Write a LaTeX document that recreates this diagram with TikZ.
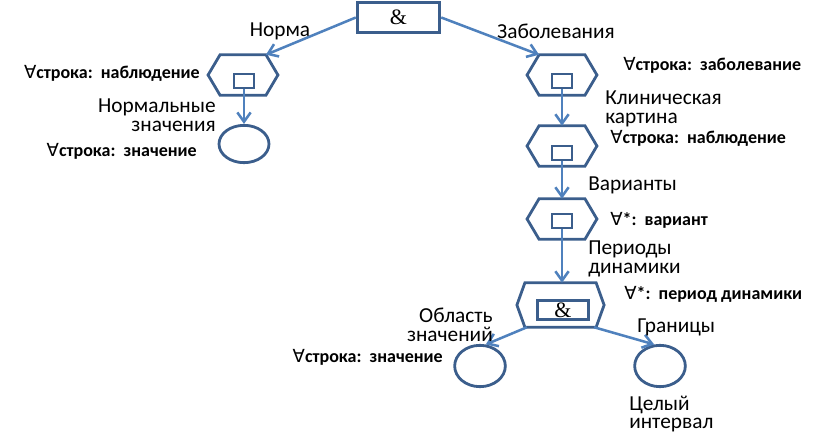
\documentclass[tikz,border=0pt]{standalone}
\usepackage{fontspec}
\setmainfont{Carlito}
\newfontfamily\symfont{DejaVu Sans}
\newfontfamily\ampfont{Liberation Serif}
\usetikzlibrary{arrows.meta,calc,shapes.geometric}

\definecolor{frameblue}{HTML}{3B5E8C}
\definecolor{linkblue}{HTML}{4F81BD}

\newcommand{\fa}{{\mdseries\symfont ∀}}
% hexagon outline round a named box node, #1 = inset
\newcommand{\hexframe}[2][12]{%
  \draw[frame] (#2.west) -- ($(#2.north west)+(#1,0)$) -- ($(#2.north east)+(-#1,0)$)
    -- (#2.east) -- ($(#2.south east)+(-#1,0)$) -- ($(#2.south west)+(#1,0)$) -- cycle;}

\tikzset{
  frame/.style={draw=frameblue,line width=2.1pt},
  link/.style={draw=linkblue,line width=1.9pt,-{Straight Barb[length=7pt,width=10pt]}},
  hexbox/.style={draw=none,minimum width=52pt,minimum height=30pt,inner sep=0pt},
  sqbox/.style={frame,minimum width=15pt,minimum height=10.5pt,inner sep=0pt},
  andbox/.style={frame,minimum width=62pt,minimum height=23pt,inner sep=0pt,
    font=\ampfont\fontsize{16.5}{16.5}\selectfont},
  leaf/.style={frame,ellipse,minimum width=38pt,minimum height=31pt,inner sep=0pt},
  lbl/.style={inner sep=0pt,font=\fontsize{16}{14}\selectfont},
  qlbl/.style={inner sep=0pt,font=\bfseries\fontsize{13.5}{14}\selectfont}
}

\begin{document}
\begin{tikzpicture}[x=0.75pt,y=-0.75pt]
  \useasboundingbox (0,0) rectangle (827,435);

  % --- Root ---
  \node[andbox] (and) at (398.5,17.5) {\&};

  % --- Left branch ---
  \node[hexbox] (hexL) at (243,75) {};
  \hexframe{hexL}
  \node[sqbox] (sqL) at (244,81) {};
  \node[leaf,minimum width=37.5pt,minimum height=28pt] (leafL) at (244,144) {};

  % --- Right branch ---
  \node[hexbox] (hexA) at (562,75) {};
  \hexframe{hexA}
  \node[sqbox] (sqA) at (562,81) {};
  \node[hexbox] (hexB) at (562,146) {};
  \hexframe{hexB}
  \node[sqbox] (sqB) at (562,153) {};
  \node[hexbox] (hexC) at (562,219) {};
  \hexframe{hexC}
  \node[sqbox] (sqC) at (562,221) {};
  \node[hexbox,minimum width=65pt,minimum height=33pt] (hexD) at (560.5,305) {};
  \hexframe[8]{hexD}
  \node[andbox,minimum width=38pt,minimum height=14pt] (andD) at (563,310) {\&};
  \node[leaf] (leafD1) at (480,366) {};
  \node[leaf] (leafD2) at (660,366) {};

  % --- Links ---
  \draw[link] (and.west) -- ($(hexL.north east)+(-12,0)$);
  \draw[link] (and.east) -- ($(hexA.north west)+(12,0)$);
  \draw[link] (sqL.south) -- (leafL.north);
  \draw[link] (sqA.south) -- (hexB.north);
  \draw[link] (sqB.south) -- (hexC.north);
  \draw[link] (sqC.south) -- (sqC.south |- hexD.north);
  \draw[link] ($(hexD.south west)+(10,0)$) -- (leafD1.75);
  \draw[link] ($(hexD.south east)+(-10,0)$) -- (leafD2.105);

  % --- Labels ---
  \node[lbl] (norm) at (280,31) {Норма};
  \node[lbl] (dis) at (556,31) {Заболевания};
  \node[qlbl,anchor=east] (qL1) at (200,73) {\fa строка:\ \ наблюдение};
  \node[lbl,anchor=east,align=right] (nL) at (216,115) {Нормальные\\значения};
  \node[qlbl,anchor=east] (qL2) at (197,151) {\fa строка:\ \ значение};
  \node[qlbl,anchor=west] (qA) at (623,65) {\fa строка:\ \ заболевание};
  \node[lbl,anchor=west,align=left] (clin) at (605,109) {Клиническая\\картина};
  \node[qlbl,anchor=west] (qB) at (610,138) {\fa строка:\ \ наблюдение};
  \node[lbl,anchor=west] (var) at (588,185) {Варианты};
  \node[qlbl,anchor=west] (qC) at (610,220) {\fa*:\ \ вариант};
  \node[lbl,anchor=west,align=left] (per) at (588,259) {Периоды\\динамики};
  \node[qlbl,anchor=west] (qD) at (624,294) {\fa*:\ \ период динамики};
  \node[lbl,anchor=east,align=right] (area) at (493,325) {Область\\значений};
  \node[qlbl,anchor=east] (qE) at (443,357) {\fa строка:\ \ значение};
  \node[lbl,anchor=west] (bnd) at (637,327) {Границы};
  \node[lbl,anchor=west,align=left] (intv) at (629,414) {Целый\\интервал};
\end{tikzpicture}
\end{document}
